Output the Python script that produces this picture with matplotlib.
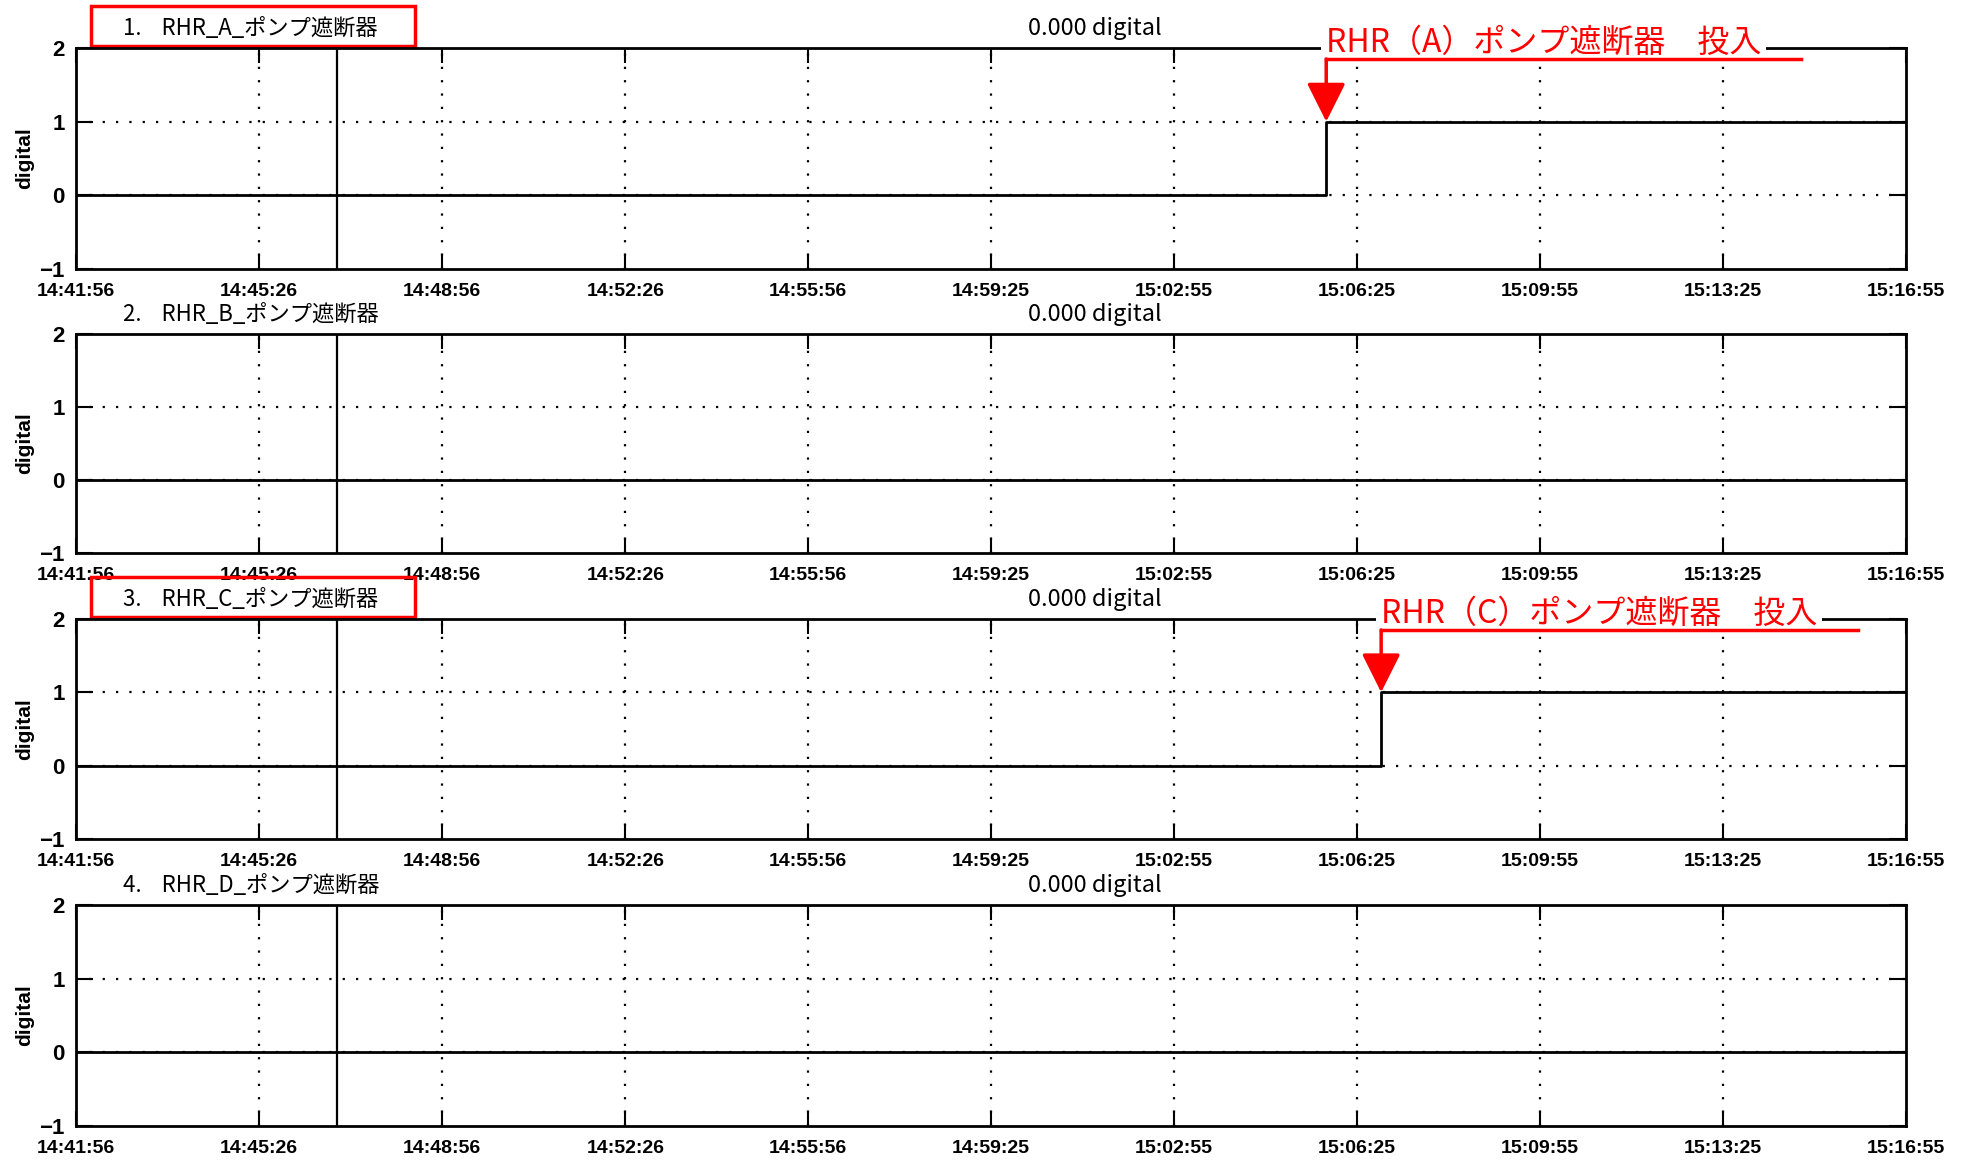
import numpy as np
import matplotlib.pyplot as plt
from matplotlib.patches import Rectangle

plt.rcParams['font.family'] = ['Liberation Sans', 'Noto Sans CJK JP', 'DejaVu Sans']

# time axis (HH:MM:SS as printed on the chart)
tick_labels = ["14:41:56", "14:45:26", "14:48:56", "14:52:26", "14:55:56", "14:59:25",
               "15:02:55", "15:06:25", "15:09:55", "15:13:25", "15:16:55"]
cursor_time = "14:46:55"

panel_titles = ["1.    RHR_A_ポンプ遮断器", "2.    RHR_B_ポンプ遮断器",
                "3.    RHR_C_ポンプ遮断器", "4.    RHR_D_ポンプ遮断器"]
readouts = ["0.000 digital", "0.000 digital", "0.000 digital", "0.000 digital"]

# breaker status signals (0 = open, 1 = closed)
a_times = ["14:41:56", "15:05:50", "15:16:55"]
a_values = [0, 1, 1]
b_times = ["14:41:56", "15:16:55"]
b_values = [0, 0]
c_times = ["14:41:56", "15:06:53", "15:16:55"]
c_values = [0, 1, 1]
d_times = ["14:41:56", "15:16:55"]
d_values = [0, 0]

# red callouts: panel index, text, time where the leader line ends on the right
notes = [(0, "RHR（A）ポンプ遮断器　投入", "15:14:55"),
         (2, "RHR（C）ポンプ遮断器　投入", "15:16:00")]
boxed_panels = [0, 2]


def secs(s):
    h, m, x = map(int, s.split(":"))
    return h * 3600 + m * 60 + x


ticks = [secs(t) for t in tick_labels]
series = [(a_times, a_values), (b_times, b_values), (c_times, c_values), (d_times, d_values)]

fig = plt.figure(figsize=(19.67, 11.62), dpi=100)
W, H = 1967, 1162
# panel top/bottom in pixels
rows = [(48, 269), (334, 553), (619, 839), (905, 1126)]
left, right = 76, 1906

axes = []
for i, (top, bot) in enumerate(rows):
    ax = fig.add_axes([left / W, 1 - bot / H, (right - left) / W, (bot - top) / H])
    axes.append(ax)
    t, v = series[i]
    ax.plot([secs(x) for x in t], v, drawstyle='steps-post', color='black', lw=2, zorder=3)
    ax.axvline(secs(cursor_time), color='black', lw=1.6, zorder=2)

    ax.set_xlim(ticks[0], ticks[-1])
    ax.set_ylim(-1, 2)
    ax.set_xticks(ticks)
    ax.set_xticklabels(tick_labels, fontsize=14)
    ax.set_yticks([-1, 0, 1, 2])
    ax.tick_params(axis='y', labelsize=16, direction='in', length=12, width=1.5,
                   left=True, right=True, pad=8)
    ax.tick_params(axis='x', direction='in', length=11, width=1.5, top=True, bottom=True, pad=10)
    for lab in ax.get_yticklabels():
        lab.set_fontweight('bold')
    for lab in ax.get_xticklabels():
        lab.set_fontweight('bold')
    for sp in ax.spines.values():
        sp.set_linewidth(2)
    for tk in ticks[1:-1]:
        ax.axvline(tk, color='black', lw=1.6, ls=(0, (1, 5)), zorder=1)
    for yv in [0, 1]:
        ax.axhline(yv, color='black', lw=1.6, ls=(0, (1, 5)), zorder=1)

    ax.set_ylabel("digital", fontsize=15, fontweight='bold', labelpad=4)

    ax.text(0.0257, 1.09, panel_titles[i], transform=ax.transAxes, fontsize=16,
            family=['Noto Sans CJK JP'], ha='left', va='center')
    ax.text(0.557, 1.09, readouts[i], transform=ax.transAxes, fontsize=17,
            family=['Noto Sans CJK JP'], ha='center', va='center')
    if i in boxed_panels:
        ax.add_patch(Rectangle((0.008, 1.01), 0.177, 0.18, transform=ax.transAxes,
                               fill=False, edgecolor='red', lw=2.5, clip_on=False))

for i, label, end in notes:
    ax = axes[i]
    step = secs(series[i][0][1])
    ax.plot([secs(end), step], [1.85, 1.85], color='red', lw=2.5, zorder=4)
    ax.annotate('', xy=(step, 1.0), xytext=(step, 1.85),
                arrowprops=dict(arrowstyle='-|>,head_length=1.0,head_width=0.5',
                                color='red', lw=2.5, shrinkA=0, shrinkB=0,
                                mutation_scale=24), zorder=4)
    # white backing hides the top frame under the label, leader line stays on top
    ax.text(step, 1.025, label, transform=ax.get_xaxis_transform(), color='red',
            fontsize=23, family=['Noto Sans CJK JP'], ha='left', va='center', zorder=3.6,
            bbox=dict(boxstyle='square,pad=0.15', facecolor='white', edgecolor='none'))

fig.savefig("out.png", dpi=100)
